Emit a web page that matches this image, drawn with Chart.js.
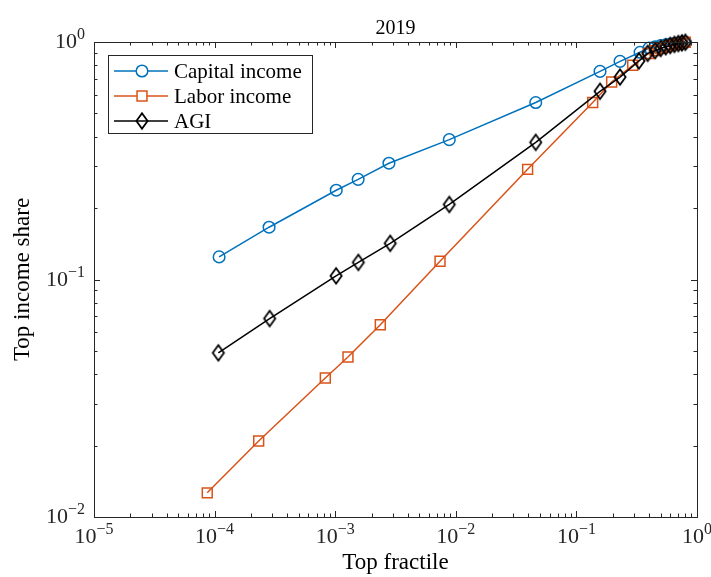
<!DOCTYPE html>
<html><head><meta charset="utf-8">
<script src="https://cdn.jsdelivr.net/npm/chart.js@4.4.0/dist/chart.umd.min.js"></script>
<style>html,body{margin:0;padding:0;background:#fff}#wrap{width:711px;height:577px}</style>
</head><body><div id="wrap"><canvas id="c" width="711" height="577"></canvas></div>
<script>
// ---- data ----
const chartTitle = '2019';
const xAxisLabel = 'Top fractile';
const yAxisLabel = 'Top income share';
const seriesNames = ['Capital income', 'Labor income', 'AGI'];

const capitalX = [1.09e-4, 2.83e-4, 1.02e-3, 1.55e-3, 2.79e-3, 8.83e-3, 0.046, 0.157, 0.230, 0.337, 0.40, 0.45, 0.50, 0.55, 0.60, 0.65, 0.70, 0.75, 0.80];
const capitalY = [0.1245, 0.166, 0.2376, 0.264, 0.3087, 0.388, 0.556, 0.752, 0.829, 0.905, 0.943, 0.955, 0.965, 0.973, 0.980, 0.986, 0.991, 0.995, 0.998];

const laborX = [8.69e-5, 2.32e-4, 8.28e-4, 1.276e-3, 2.366e-3, 7.4e-3, 0.0394, 0.1365, 0.196, 0.293, 0.395, 0.45, 0.50, 0.55, 0.60, 0.65, 0.70, 0.75, 0.80];
const laborY = [0.01264, 0.0209, 0.0385, 0.0472, 0.0645, 0.1194, 0.291, 0.556, 0.679, 0.798, 0.894, 0.920, 0.940, 0.955, 0.967, 0.977, 0.985, 0.992, 0.997];

const agiX = [1.074e-4, 2.86e-4, 1.017e-3, 1.555e-3, 2.86e-3, 8.83e-3, 0.046, 0.157, 0.230, 0.330, 0.390, 0.45, 0.50, 0.55, 0.60, 0.65, 0.70, 0.75, 0.80];
const agiY = [0.0491, 0.0685, 0.1036, 0.118, 0.142, 0.207, 0.378, 0.620, 0.712, 0.832, 0.896, 0.920, 0.940, 0.955, 0.967, 0.977, 0.985, 0.992, 0.997];

const xTickExponents = [-5, -4, -3, -2, -1, 0];
const yTickExponents = [-2, -1, 0];

// ---- styling ----
const SERIF = "'Liberation Serif', 'DejaVu Serif', serif";
const colors = ['#0072BD', '#D95319', '#000000'];

// tall MATLAB-like diamond marker
function makeDiamond(color) {
  const cv = document.createElement('canvas');
  cv.width = 16; cv.height = 20;
  const g = cv.getContext('2d');
  g.strokeStyle = color; g.lineWidth = 1.8;
  g.lineJoin = 'miter';
  g.beginPath();
  g.moveTo(8, 2.2); g.lineTo(13.6, 10); g.lineTo(8, 17.8); g.lineTo(2.4, 10); g.closePath();
  g.stroke();
  return cv;
}
const styles = ['circle', 'rect', makeDiamond('#000000')];
const radii = [5.8, 7, 8];

function pts(xs, ys) { return xs.map((v, i) => ({ x: v, y: ys[i] })); }
const seriesData = [pts(capitalX, capitalY), pts(laborX, laborY), pts(agiX, agiY)];

const datasets = seriesData.map((d, i) => ({
  label: seriesNames[i],
  data: d,
  borderColor: colors[i],
  backgroundColor: 'rgba(0,0,0,0)',
  borderWidth: 1.5,
  pointStyle: styles[i],
  pointRadius: radii[i],
  pointHoverRadius: radii[i],
  pointBorderColor: colors[i],
  pointBackgroundColor: 'rgba(0,0,0,0)',
  pointBorderWidth: 1.5,
  tension: 0,
  clip: false,
  order: 3 - i
}));

const minus = '\u2212';
function expStr(e) { return e < 0 ? minus + Math.abs(e) : String(e); }

const axesPlugin = {
  id: 'matlabAxes',
  afterDraw(chart) {
    const { ctx, chartArea: a, scales } = chart;
    const xs = scales.x, ys = scales.y;
    ctx.save();
    ctx.strokeStyle = '#262626';
    ctx.lineWidth = 1;
    const majorLen = 6, minorLen = 3.5;
    ctx.beginPath();
    const xMin = xTickExponents[0], xMax = xTickExponents[xTickExponents.length - 1];
    for (let e = xMin; e <= xMax; e++) {
      for (let k = 1; k <= 9; k++) {
        if (e === xMax && k > 1) break;
        const px = Math.round(xs.getPixelForValue(k * Math.pow(10, e))) + 0.5;
        const len = k === 1 ? majorLen : minorLen;
        ctx.moveTo(px, a.bottom); ctx.lineTo(px, a.bottom - len);
        ctx.moveTo(px, a.top); ctx.lineTo(px, a.top + len);
      }
    }
    const yMin = yTickExponents[0], yMax = yTickExponents[yTickExponents.length - 1];
    for (let e = yMin; e <= yMax; e++) {
      for (let k = 1; k <= 9; k++) {
        if (e === yMax && k > 1) break;
        const py = Math.round(ys.getPixelForValue(k * Math.pow(10, e))) + 0.5;
        const len = k === 1 ? majorLen : minorLen;
        ctx.moveTo(a.left, py); ctx.lineTo(a.left + len, py);
        ctx.moveTo(a.right, py); ctx.lineTo(a.right - len, py);
      }
    }
    ctx.stroke();
    ctx.strokeRect(Math.round(a.left) + 0.5, Math.round(a.top) + 0.5, Math.round(a.right - a.left), Math.round(a.bottom - a.top));

    // tick labels
    const baseFont = '22px ' + SERIF, expFont = '16px ' + SERIF;
    ctx.fillStyle = '#262626';
    ctx.textBaseline = 'alphabetic';
    ctx.textAlign = 'left';
    xTickExponents.forEach(e => {
      const px = xs.getPixelForValue(Math.pow(10, e));
      ctx.font = baseFont; const wb = ctx.measureText('10').width;
      ctx.font = expFont; const we = ctx.measureText(expStr(e)).width;
      const x0 = px - (wb + we) / 2;
      const base = a.bottom + 26;
      ctx.font = baseFont; ctx.fillText('10', x0, base);
      ctx.font = expFont; ctx.fillText(expStr(e), x0 + wb, base - 9);
    });
    yTickExponents.forEach(e => {
      const py = ys.getPixelForValue(Math.pow(10, e));
      ctx.font = baseFont; const wb = ctx.measureText('10').width;
      ctx.font = expFont; const we = ctx.measureText(expStr(e)).width;
      const x1 = a.left - 9;
      const base = py + 6;
      ctx.font = expFont; ctx.fillText(expStr(e), x1 - we, base - 9);
      ctx.font = baseFont; ctx.fillText('10', x1 - we - wb, base);
    });

    // legend
    const lx = 108.5, ly = 55.5, lw = 204, lh = 78;
    ctx.fillStyle = '#ffffff';
    ctx.fillRect(lx, ly, lw, lh);
    ctx.strokeStyle = '#262626';
    ctx.lineWidth = 1;
    ctx.strokeRect(lx, ly, lw, lh);
    const rows = [71, 96, 121];
    chart.data.datasets.forEach((ds, i) => {
      const ry = rows[i];
      ctx.strokeStyle = ds.borderColor;
      ctx.lineWidth = 1.5;
      ctx.beginPath(); ctx.moveTo(114, ry); ctx.lineTo(168, ry); ctx.stroke();
      ctx.fillStyle = '#ffffff';
      Chart.helpers.drawPoint(ctx, { pointStyle: ds.pointStyle, radius: ds.pointRadius, rotation: 0, borderWidth: 1.5 }, 142, ry);
      ctx.fillStyle = '#000000';
      ctx.font = '21px ' + SERIF;
      ctx.textAlign = 'left';
      ctx.textBaseline = 'middle';
      ctx.fillText(ds.label, 174, ry + 1);
    });
    ctx.restore();
  }
};

new Chart(document.getElementById('c'), {
  type: 'line',
  data: { datasets },
  options: {
    responsive: false,
    animation: false,
    devicePixelRatio: 1,
    layout: { padding: { left: 0, right: 14, top: 0, bottom: 0 } },
    plugins: {
      legend: { display: false },
      tooltip: { enabled: false },
      title: {
        display: true, text: chartTitle, fullSize: false, color: '#000',
        font: { family: SERIF, size: 20, weight: 'normal', lineHeight: 1.2 },
        padding: { top: 17, bottom: 1 }
      }
    },
    scales: {
      x: {
        type: 'logarithmic', min: 1e-5, max: 1,
        grid: { display: false, drawTicks: false },
        border: { display: false },
        ticks: { display: false },
        title: { display: true, text: xAxisLabel, color: '#000', font: { family: SERIF, size: 23, lineHeight: 1.2 }, padding: { top: 0, bottom: 0 } },
        afterFit(s) { s.height = 60; }
      },
      y: {
        type: 'logarithmic', min: 0.01, max: 1,
        grid: { display: false, drawTicks: false },
        border: { display: false },
        ticks: { display: false },
        title: { display: true, text: yAxisLabel, color: '#000', font: { family: SERIF, size: 23, lineHeight: 1.2 }, padding: { top: 9, bottom: 0 } },
        afterFit(s) { s.width = 94; }
      }
    }
  },
  plugins: [axesPlugin]
});
</script>
</body></html>
